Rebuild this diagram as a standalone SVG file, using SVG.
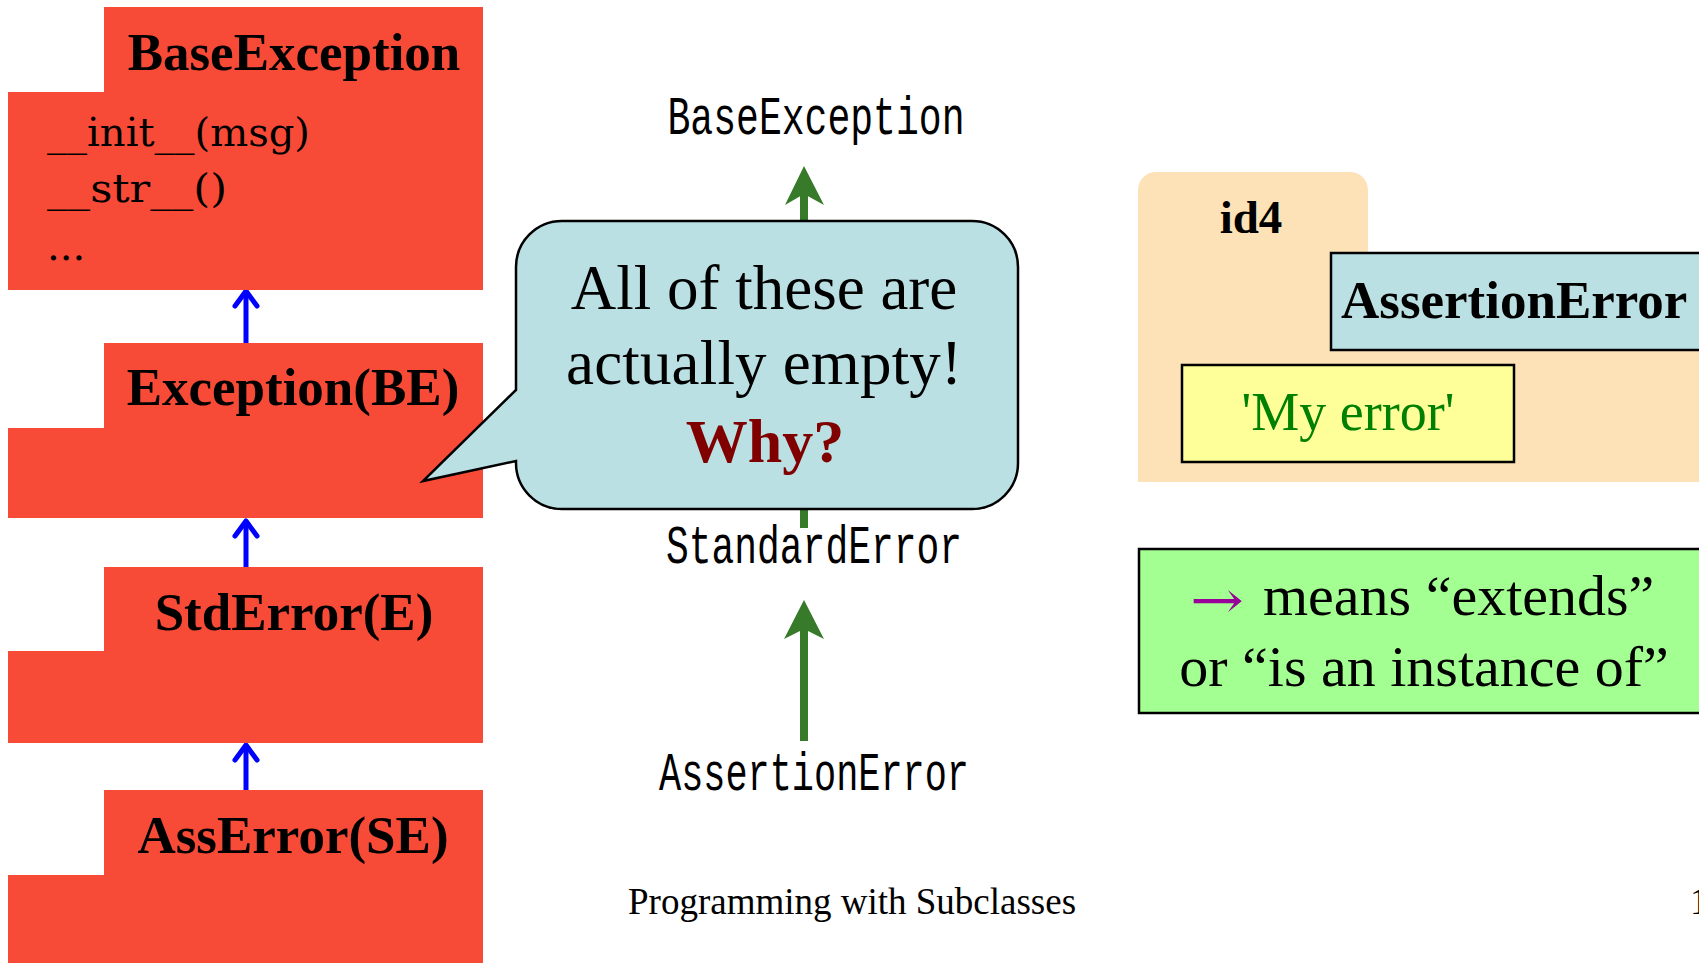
<svg xmlns="http://www.w3.org/2000/svg" width="1699" height="963" viewBox="0 0 1699 963">
<style>
  .cls { fill: #F84B37; }
  .bold { font-family: "Liberation Serif", "Times New Roman", serif; font-weight: bold; font-size: 53px; fill: #000; text-anchor: middle; }
  .meth { font-family: "DejaVu Serif", "Liberation Serif", serif; font-size: 40px; fill: #000; }
  .mono { font-family: "Liberation Mono", "Courier New", monospace; font-size: 54px; fill: #000; text-anchor: middle; }
  .serif { font-family: "Liberation Serif", "Times New Roman", serif; fill: #000; }
  .blue { stroke: #0000FF; stroke-width: 5; fill: none; stroke-linecap: round; stroke-linejoin: round; }
  .green { stroke: #367A2A; stroke-width: 8; fill: none; }
  .ghead { fill: #367A2A; }
  .outline { stroke: #000; stroke-width: 2.5; }
</style>

<g id="connectors">
  <line class="blue" x1="246" y1="343" x2="246" y2="292"/>
  <polyline class="blue" points="235,306 246,291 257,306"/>
  <line class="blue" x1="246" y1="567" x2="246" y2="522"/>
  <polyline class="blue" points="235,536 246,521 257,536"/>
  <line class="blue" x1="246" y1="790" x2="246" y2="746"/>
  <polyline class="blue" points="235,760 246,745 257,760"/>

  <line class="green" x1="804" y1="528" x2="804" y2="192"/>
  <polygon class="ghead" points="804,166 824,205 804,194 785,205"/>
  <line class="green" x1="804" y1="741" x2="804" y2="628"/>
  <polygon class="ghead" points="804,600 824,639 804,629 784,639"/>
</g>

<g id="node-baseexception">
  <path class="cls" d="M104,7 H483 V290 H8 V92 H104 Z"/>
  <text class="bold" x="294" y="70">BaseException</text>
  <text class="meth" x="47" y="146" textLength="263" lengthAdjust="spacingAndGlyphs">__init__(msg)</text>
  <text class="meth" x="47" y="202" textLength="180" lengthAdjust="spacingAndGlyphs">__str__()</text>
  <text class="meth" x="47" y="260">...</text>
</g>

<g id="node-exception">
  <path class="cls" d="M104,343 H483 V518 H8 V428 H104 Z"/>
  <text class="bold" x="293" y="405">Exception(BE)</text>
</g>

<g id="node-stderror">
  <path class="cls" d="M104,567 H483 V743 H8 V651 H104 Z"/>
  <text class="bold" x="294" y="630">StdError(E)</text>
</g>

<g id="node-asserror">
  <path class="cls" d="M104,790 H483 V963 H8 V875 H104 Z"/>
  <text class="bold" x="293" y="853">AssError(SE)</text>
</g>

<g id="label-baseexception">
  <text class="mono" x="816" y="134" textLength="297" lengthAdjust="spacingAndGlyphs">BaseException</text>
</g>
<g id="label-standarderror">
  <text class="mono" x="814" y="563" textLength="296" lengthAdjust="spacingAndGlyphs">StandardError</text>
</g>
<g id="label-assertionerror">
  <text class="mono" x="814" y="790" textLength="310" lengthAdjust="spacingAndGlyphs">AssertionError</text>
</g>

<g id="callout">
  <path class="outline" fill="#BAE0E3" d="M562,221 H972 A46,46 0 0 1 1018,267 V463 A46,46 0 0 1 972,509 H562 A46,46 0 0 1 516,463 L516,461 L423,481 L516,390 V267 A46,46 0 0 1 562,221 Z"/>
  <text class="serif" x="764" y="309" font-size="63" text-anchor="middle">All of these are</text>
  <text class="serif" x="764" y="384" font-size="63" text-anchor="middle" textLength="396" lengthAdjust="spacing">actually empty!</text>
  <text class="serif" x="765" y="462" font-size="62" font-weight="bold" text-anchor="middle" style="fill:#800000">Why?</text>
</g>

<g id="node-id4">
  <path fill="#FDE2B8" d="M1156,172 H1350 A18,18 0 0 1 1368,190 V253 H1699 V482 H1138 V190 A18,18 0 0 1 1156,172 Z"/>
  <text class="bold" x="1251" y="233" style="font-size:47px">id4</text>
  <rect class="outline" x="1331" y="253" width="380" height="97" fill="#BAE0E3"/>
  <text class="serif" x="1341" y="318" font-size="53" font-weight="bold">AssertionError</text>
  <rect class="outline" x="1182" y="365" width="332" height="97" fill="#FFFF99"/>
  <text class="serif" x="1348" y="430" font-size="54" text-anchor="middle" style="fill:#008000">'My error'</text>
</g>

<g id="legend">
  <rect class="outline" x="1139" y="549" width="580" height="164" fill="#A4FF92"/>
  <text x="1190" y="618" font-size="52" textLength="54" lengthAdjust="spacingAndGlyphs" style="font-family:'DejaVu Serif','Liberation Serif',serif;fill:#990099">→</text>
  <text class="serif" x="1263" y="615" font-size="58">means “extends”</text>
  <text class="serif" x="1424" y="686" font-size="58" text-anchor="middle">or “is an instance of”</text>
</g>

<g id="footer">
  <text class="serif" x="628" y="914" font-size="37">Programming with Subclasses</text>
  <text class="serif" x="1690" y="914" font-size="37">1</text>
</g>
</svg>
